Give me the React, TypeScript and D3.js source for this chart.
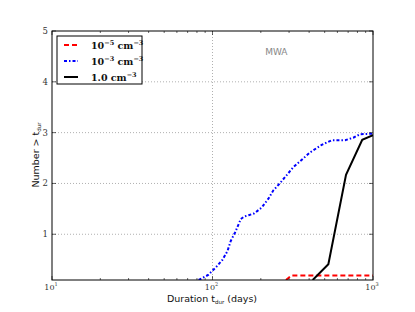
import * as d3 from "d3";
import React from "react";

// values
const lowX = [287, 311, 1000];
const lowY = [0.1, 0.19, 0.19];

const midX = [82, 94, 105, 115, 124, 130, 138, 146, 150, 158, 170, 182, 203, 223, 239, 264, 319, 405, 479, 553, 670, 754, 830, 1000];
const midY = [0.1, 0.2, 0.35, 0.49, 0.67, 0.87, 1.03, 1.21, 1.3, 1.35, 1.38, 1.41, 1.53, 1.7, 1.86, 2.01, 2.32, 2.61, 2.76, 2.85, 2.85, 2.9, 2.97, 2.98];

const highX = [421, 527, 679, 857, 1000];
const highY = [0.1, 0.41, 2.17, 2.86, 2.95];

const yTicks = [1, 2, 3, 4, 5];
const xMajor = [10, 100, 1000];
const legendExp = ["−5", "−3", ""];

const margin = { top: 31, right: 42, bottom: 32, left: 52 };
const W = 415,
	H = 312;
const width = W - margin.left - margin.right;
const height = H - margin.top - margin.bottom;

const serif = "'DejaVu Serif', 'Liberation Serif', serif";
const sans = "'DejaVu Sans', 'Liberation Sans', sans-serif";

const App = () => {
	const x = d3.scaleLog().domain([10, 1000]).range([0, width]);
	const y = d3.scaleLinear().domain([0.1, 5]).range([height, 0]);

	const line = d3
		.line<[number, number]>()
		.x((d) => x(d[0]))
		.y((d) => y(d[1]));

	const zip = (a: number[], b: number[]) => a.map((v, i) => [v, b[i]] as [number, number]);

	const minor: number[] = [];
	for (const dec of [10, 100]) for (let k = 2; k <= 9; k++) minor.push(dec * k);

	const series = [
		{ d: zip(lowX, lowY), color: "#ff0000", dash: "5,3" },
		{ d: zip(midX, midY), color: "#0000ff", dash: "3,2,1.5,2" },
		{ d: zip(highX, highY), color: "#000000", dash: "" },
	];

	return (
		<svg width={W} height={H} style={{ position: "absolute", left: 0, top: 0 }}>
			<rect width={W} height={H} fill="#fff" />
			<g transform={`translate(${margin.left},${margin.top})`}>
				{/* grid */}
				{yTicks.slice(0, 4).map((t) => (
					<line key={"gy" + t} x1={0} x2={width} y1={y(t)} y2={y(t)} stroke="#b0b0b0" strokeDasharray="1,2" strokeWidth={1} />
				))}
				<line x1={x(100)} x2={x(100)} y1={0} y2={height} stroke="#b0b0b0" strokeDasharray="1,2" strokeWidth={1} />

				{/* lines */}
				<defs>
					<clipPath id="plot">
						<rect width={width} height={height} />
					</clipPath>
				</defs>
				<g clipPath="url(#plot)">
					{series.map((s, i) => (
						<path key={i} d={line(s.d) ?? ""} fill="none" stroke={s.color} strokeWidth={2} strokeDasharray={s.dash} />
					))}
				</g>

				{/* ticks */}
				{minor.map((t) => (
					<g key={"mx" + t} stroke="#000" strokeWidth={0.6}>
						<line x1={x(t)} x2={x(t)} y1={height} y2={height - 2} />
						<line x1={x(t)} x2={x(t)} y1={0} y2={2} />
					</g>
				))}
				{xMajor.map((t) => (
					<g key={"Mx" + t}>
						<line x1={x(t)} x2={x(t)} y1={height} y2={height - 4} stroke="#000" strokeWidth={0.6} />
						<line x1={x(t)} x2={x(t)} y1={0} y2={4} stroke="#000" strokeWidth={0.6} />
						<text x={x(t) - 1} y={height + 10} fontFamily={serif} fontSize={8} textAnchor="middle" fill="#333">
							10
							<tspan dy={-4} fontSize={5}>
								{Math.round(Math.log10(t))}
							</tspan>
						</text>
					</g>
				))}
				{yTicks.map((t) => (
					<g key={"ty" + t}>
						<line x1={0} x2={4} y1={y(t)} y2={y(t)} stroke="#000" strokeWidth={0.6} />
						<line x1={width} x2={width - 4} y1={y(t)} y2={y(t)} stroke="#000" strokeWidth={0.6} />
						<text x={-4} y={y(t) + 3} fontFamily={serif} fontSize={8.5} textAnchor="end" fill="#333">
							{t}
						</text>
					</g>
				))}

				{/* frame */}
				<rect width={width} height={height} fill="none" stroke="#000" strokeWidth={1} />

				{/* legend */}
				<g transform="translate(5,5)">
					<rect width={85} height={48} fill="#fff" stroke="#000" strokeWidth={1} />
					{series.map((s, i) => (
						<g key={"lg" + i} transform={`translate(0,${9 + i * 16})`}>
							<line x1={7} x2={21} y1={0} y2={0} stroke={s.color} strokeWidth={2} strokeDasharray={s.dash} />
							<text x={34} y={4} fontFamily={serif} fontSize={9.5} fontWeight="bold" fill="#111">
								{i < 2 ? (
									<>
										10
										<tspan dy={-4} fontSize={6.5}>
											{legendExp[i]}
										</tspan>
										<tspan dy={4}> cm</tspan>
									</>
								) : (
									<>1.0 cm</>
								)}
								<tspan dy={-4} fontSize={6.5}>
									−3
								</tspan>
							</text>
						</g>
					))}
				</g>

				<text x={x(250)} y={24} fontFamily={sans} fontSize={9} fill="#888" textAnchor="middle">
					MWA
				</text>
			</g>

			{/* axis labels */}
			<text x={212} y={302} fontFamily={sans} fontSize={9.5} textAnchor="middle" fill="#111">
				Duration t
				<tspan dy={1.5} fontSize={5.5}>
					dur
				</tspan>
				<tspan dy={-1.5}> (days)</tspan>
			</text>
			<text transform="translate(39,155) rotate(-90)" fontFamily={sans} fontSize={9.5} textAnchor="middle" fill="#111">
				Number &gt; t
				<tspan dy={1.5} fontSize={5.5}>
					dur
				</tspan>
			</text>
		</svg>
	);
};

export default App;
